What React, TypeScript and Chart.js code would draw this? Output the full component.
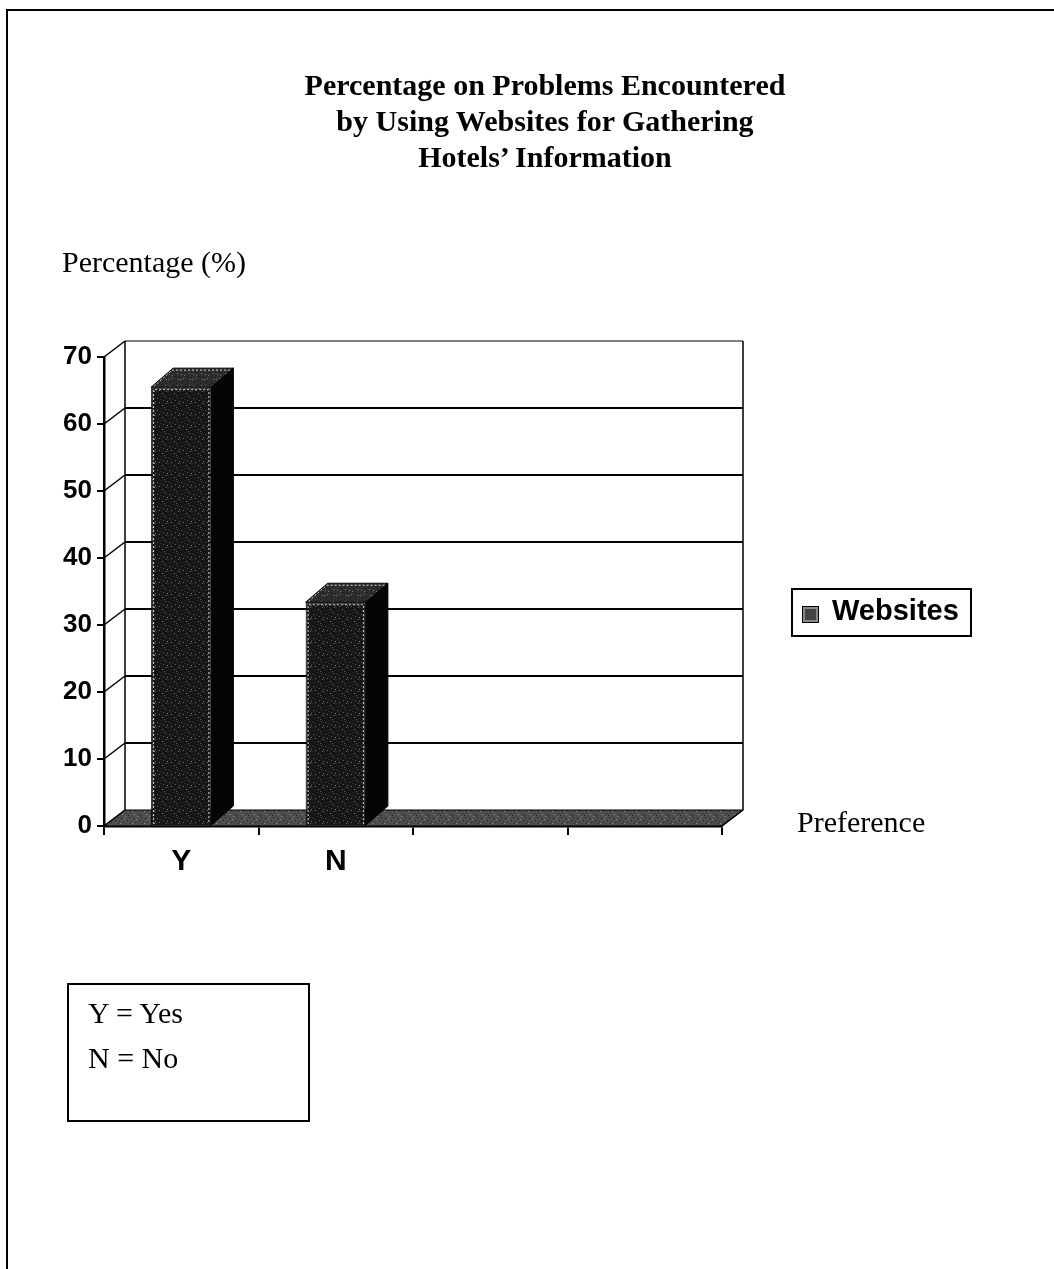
import React, { useEffect, useRef } from "react";
import { Chart, registerables } from "chart.js";

Chart.register(...registerables);

const categories: string[] = ["Y", "N", "", ""];
const seriesLabel = "Websites";
const websitesValues: (number | null)[] = [65.5, 33.4, null, null];
const yMin = 0;
const yMax = 70;
const yStep = 10;

const titleLines = [
  "Percentage on Problems Encountered",
  "by Using Websites for Gathering",
  "Hotels\u2019 Information",
];
const yAxisTitle = "Percentage (%)";
const xAxisTitle = "Preference";
const keyLines = ["Y = Yes", "N = No"];

const SERIF = '"Liberation Serif", "Times New Roman", serif';
const SANS = '"Liberation Sans", Arial, sans-serif';

function makePattern(base: string, dots: string[], size: number): CanvasPattern | string {
  const c = document.createElement("canvas");
  c.width = size;
  c.height = size;
  const g = c.getContext("2d");
  if (!g) return base;
  g.fillStyle = base;
  g.fillRect(0, 0, size, size);
  // deterministic speckle layout
  const spots = [
    [1, 2], [5, 0], [3, 6], [7, 4], [0, 7], [6, 9], [9, 1], [2, 10], [10, 7], [8, 11], [4, 3], [11, 5],
  ];
  spots.forEach(([sx, sy], i) => {
    g.fillStyle = dots[i % dots.length];
    g.fillRect(sx % size, sy % size, 1, 1);
  });
  const p = g.createPattern(c, "repeat");
  return p || base;
}

const WALL_DX = 21;
const WALL_DY = 16;
const BAR_DX = 22;
const BAR_DY = 19;

const threeDPlugin = {
  id: "threeD",
  beforeDatasetsDraw(chart: any) {
    const { ctx, chartArea, scales } = chart;
    const { left, right, top, bottom } = chartArea;
    const y = scales.y;
    ctx.save();
    // floor
    ctx.beginPath();
    ctx.moveTo(left, bottom);
    ctx.lineTo(right, bottom);
    ctx.lineTo(right + WALL_DX, bottom - WALL_DY);
    ctx.lineTo(left + WALL_DX, bottom - WALL_DY);
    ctx.closePath();
    ctx.fillStyle = chart.$floorPattern || "#555";
    ctx.fill();
    ctx.strokeStyle = "#000";
    ctx.lineWidth = 1;
    ctx.stroke();
    // back wall edges
    ctx.lineWidth = 1.5;
    ctx.beginPath();
    ctx.moveTo(left + WALL_DX, top - WALL_DY);
    ctx.lineTo(left + WALL_DX, bottom - WALL_DY);
    ctx.moveTo(right + WALL_DX, top - WALL_DY);
    ctx.lineTo(right + WALL_DX, bottom - WALL_DY);
    ctx.lineTo(right, bottom);
    ctx.stroke();
    // gridlines on back wall + connectors
    for (let v = yMin; v <= yMax; v += yStep) {
      const py = y.getPixelForValue(v);
      ctx.beginPath();
      ctx.lineWidth = 1.5;
      ctx.moveTo(left, py);
      ctx.lineTo(left + WALL_DX, py - WALL_DY);
      ctx.stroke();
      if (v > yMin) {
        ctx.beginPath();
        ctx.lineWidth = v === yMax ? 1.2 : 2;
        ctx.moveTo(left + WALL_DX, py - WALL_DY);
        ctx.lineTo(right + WALL_DX, py - WALL_DY);
        ctx.stroke();
      }
    }
    ctx.restore();
  },
  afterDatasetsDraw(chart: any) {
    const { ctx } = chart;
    const meta = chart.getDatasetMeta(0);
    ctx.save();
    meta.data.forEach((bar: any, i: number) => {
      const val = websitesValues[i];
      if (val === null || val === undefined) return;
      const { x, y, base, width } = bar.getProps(["x", "y", "base", "width"], true);
      const l = x - width / 2;
      const r = x + width / 2;
      // side
      ctx.beginPath();
      ctx.moveTo(r, y);
      ctx.lineTo(r + BAR_DX, y - BAR_DY);
      ctx.lineTo(r + BAR_DX, base - BAR_DY);
      ctx.lineTo(r, base);
      ctx.closePath();
      ctx.fillStyle = "#050505";
      ctx.fill();
      ctx.strokeStyle = "#000";
      ctx.lineWidth = 1;
      ctx.stroke();
      // top
      ctx.beginPath();
      ctx.moveTo(l, y);
      ctx.lineTo(r, y);
      ctx.lineTo(r + BAR_DX, y - BAR_DY);
      ctx.lineTo(l + BAR_DX, y - BAR_DY);
      ctx.closePath();
      ctx.fillStyle = chart.$topPattern || "#333";
      ctx.fill();
      ctx.stroke();
      // highlights
      ctx.setLineDash([2, 2]);
      ctx.strokeStyle = "#d8d8d8";
      ctx.lineWidth = 1;
      ctx.beginPath();
      ctx.moveTo(l + 2.5, base - 1);
      ctx.lineTo(l + 2.5, y + 2.5);
      ctx.lineTo(r - 2.5, y + 2.5);
      ctx.lineTo(r - 2.5, base - 1);
      ctx.moveTo(l + 3, y - 1);
      ctx.lineTo(l + BAR_DX - 1, y - BAR_DY + 2);
      ctx.lineTo(r + BAR_DX - 3, y - BAR_DY + 2);
      ctx.stroke();
      ctx.setLineDash([]);
    });
    ctx.restore();
  },
};

function ChartCanvas() {
  const ref = useRef<HTMLCanvasElement | null>(null);
  useEffect(() => {
    const canvas = ref.current;
    if (!canvas) return;
    const barPattern = makePattern("#161616", ["#5a5a5a", "#333", "#777"], 12);
    const floorPattern = makePattern("#4e4e4e", ["#1a1a1a", "#909090", "#2a2a2a"], 12);
    const topPattern = makePattern("#2e2e2e", ["#777", "#111"], 12);
    const chart: any = new Chart(canvas, {
      type: "bar",
      data: {
        labels: categories,
        datasets: [
          {
            label: seriesLabel,
            data: websitesValues as any,
            backgroundColor: barPattern as any,
            borderColor: "#000",
            borderWidth: 1,
            categoryPercentage: 1,
            barPercentage: 0.39,
          },
        ],
      },
      options: {
        responsive: false,
        animation: false,
        devicePixelRatio: 1,
        layout: { padding: { left: 0, top: 357, right: 332, bottom: 363 } },
        plugins: {
          legend: { display: false },
          title: { display: false },
          tooltip: { enabled: false },
        },
        scales: {
          x: {
            offset: true,
            grid: {
              offset: true,
              drawOnChartArea: false,
              drawTicks: true,
              tickLength: 9,
              color: "#000",
              lineWidth: 2,
            },
            border: { display: true, color: "#000", width: 2.5 },
            ticks: {
              color: "#000",
              padding: 9,
              font: { family: SANS, size: 30, weight: "bold" },
            },
            afterFit(scale: any) {
              scale.height = 80;
            },
          },
          y: {
            min: yMin,
            max: yMax,
            ticks: {
              stepSize: yStep,
              color: "#000",
              padding: 5,
              font: { family: SANS, size: 26, weight: "bold" },
            },
            grid: {
              drawOnChartArea: false,
              drawTicks: true,
              tickLength: 7,
              color: "#000",
              lineWidth: 2,
            },
            border: { display: true, color: "#000", width: 2.5 },
            afterFit(scale: any) {
              scale.width = 104;
            },
          },
        },
      },
      plugins: [threeDPlugin],
    });
    chart.$floorPattern = floorPattern;
    chart.$topPattern = topPattern;
    chart.draw();
    return () => chart.destroy();
  }, []);
  return (
    <canvas
      ref={ref}
      width={1054}
      height={1269}
      style={{ position: "absolute", left: 0, top: 0, width: 1054, height: 1269 }}
    />
  );
}

export default function App() {
  const abs = (s: React.CSSProperties): React.CSSProperties => ({
    position: "absolute",
    margin: 0,
    pointerEvents: "none",
    whiteSpace: "nowrap",
    ...s,
  });
  return (
    <div style={{ position: "absolute", left: 0, top: 0, width: 1054, height: 1269, overflow: "hidden", background: "#fff" }}>
      <div style={abs({ left: 6, top: 9, width: 2, height: 1260, background: "#000" })} />
      <div style={abs({ left: 6, top: 9, width: 1048, height: 2, background: "#000" })} />
      <ChartCanvas />
      <div
        style={abs({
          left: 245,
          top: 67,
          width: 600,
          textAlign: "center",
          fontFamily: SERIF,
          fontWeight: "bold",
          fontSize: 30,
          lineHeight: "36px",
          color: "#000",
        })}
      >
        {titleLines.map((t, i) => (
          <div key={i}>{t}</div>
        ))}
      </div>
      <div style={abs({ left: 62, top: 244, fontFamily: SERIF, fontSize: 30, lineHeight: "36px", color: "#000" })}>
        {yAxisTitle}
      </div>
      <div style={abs({ left: 797, top: 804, fontFamily: SERIF, fontSize: 30, lineHeight: "36px", color: "#000" })}>
        {xAxisTitle}
      </div>
      <div
        style={abs({
          left: 791,
          top: 588,
          width: 177,
          height: 45,
          border: "2px solid #000",
        })}
      >
        <div
          style={{
            position: "absolute",
            left: 9,
            top: 16,
            width: 15,
            height: 15,
            border: "1px solid #000",
            background: "#444",
            boxShadow: "inset 0 0 0 2px #888",
          }}
        />
        <div
          style={{
            position: "absolute",
            left: 39,
            top: 2,
            fontFamily: SANS,
            fontWeight: "bold",
            fontSize: 29,
            lineHeight: "36px",
            color: "#000",
          }}
        >
          {seriesLabel}
        </div>
      </div>
      <div
        style={abs({
          left: 67,
          top: 983,
          width: 239,
          height: 135,
          border: "2px solid #000",
        })}
      >
        {keyLines.map((t, i) => (
          <div
            key={i}
            style={{
              position: "absolute",
              left: 19,
              top: 10 + i * 45,
              fontFamily: SERIF,
              fontSize: 30,
              lineHeight: "36px",
              color: "#000",
            }}
          >
            {t}
          </div>
        ))}
      </div>
    </div>
  );
}
